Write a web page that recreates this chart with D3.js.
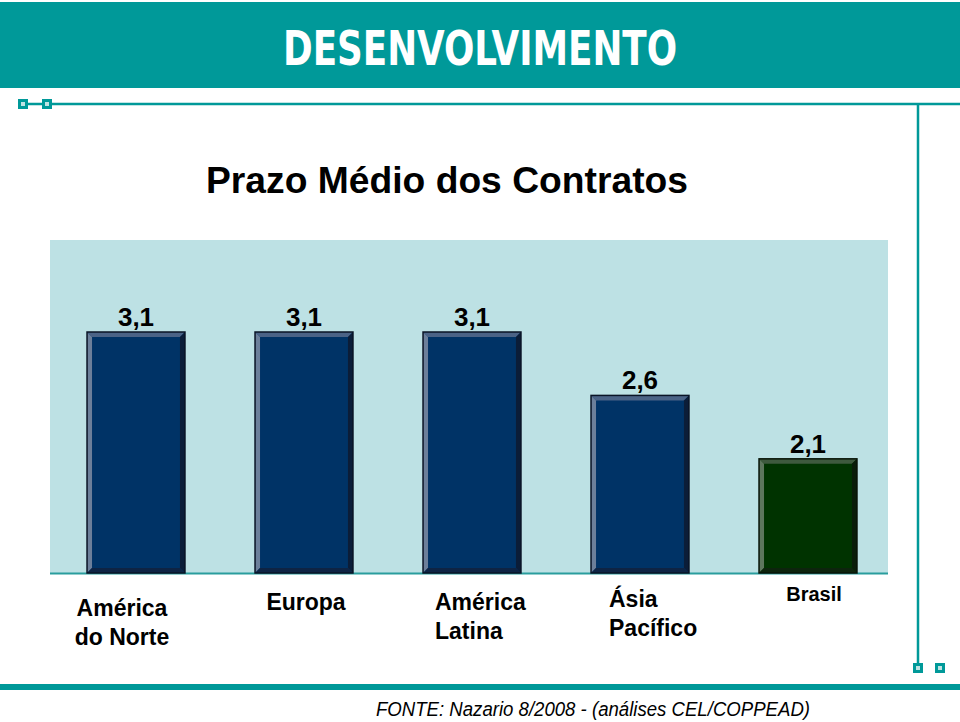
<!DOCTYPE html>
<html>
<head>
<meta charset="utf-8">
<script src="https://cdn.jsdelivr.net/npm/d3@7/dist/d3.min.js"></script>
<style>
  html, body { margin: 0; padding: 0; background: #ffffff; }
  svg { display: block; }
</style>
</head>
<body>
<svg id="chart" width="960" height="722"></svg>
<script>
// ---- data ----
const categories = ["América do Norte", "Europa", "América Latina", "Ásia Pacífico", "Brasil"];
const categoryLines = [["América", "do Norte"], ["Europa"], ["América", "Latina"], ["Ásia", "Pacífico"], ["Brasil"]];
const values = [3.1, 3.1, 3.1, 2.6, 2.1];
const valueLabels = ["3,1", "3,1", "3,1", "2,6", "2,1"];
const highlight = [false, false, false, false, true];

// ---- layout / style ----
const W = 960, H = 722;
const teal = "#009999";
const svg = d3.select("#chart");
const font = "'Liberation Sans', Arial, Helvetica, sans-serif";

// header band
svg.append("rect").attr("x", 0).attr("y", 2).attr("width", W).attr("height", 86).attr("fill", teal);
svg.append("text")
  .attr("x", 480).attr("y", 65)
  .attr("text-anchor", "middle")
  .attr("font-family", "'DejaVu Sans Condensed', 'DejaVu Sans', sans-serif")
  .attr("font-weight", "bold")
  .attr("font-size", 48)
  .attr("textLength", 394).attr("lengthAdjust", "spacingAndGlyphs")
  .attr("fill", "#ffffff")
  .text("DESENVOLVIMENTO");

// decorative lines
svg.append("line").attr("x1", 22).attr("x2", W).attr("y1", 104).attr("y2", 104)
  .attr("stroke", teal).attr("stroke-width", 2.5);
svg.append("line").attr("x1", 918).attr("x2", 918).attr("y1", 104).attr("y2", 664)
  .attr("stroke", teal).attr("stroke-width", 2.5);
svg.append("rect").attr("x", 0).attr("y", 684).attr("width", W).attr("height", 6).attr("fill", teal);
const squares = [[18, 99], [42, 99], [913, 663], [935, 663]];
svg.selectAll("rect.sq").data(squares).enter().append("rect")
  .attr("class", "sq")
  .attr("x", d => d[0] + 1.5).attr("y", d => d[1] + 1.5)
  .attr("width", 7).attr("height", 7)
  .attr("fill", "#bfe3e3").attr("stroke", teal).attr("stroke-width", 3);

// title
svg.append("text")
  .attr("x", 447).attr("y", 193)
  .attr("text-anchor", "middle")
  .attr("font-family", font).attr("font-weight", "bold")
  .attr("font-size", 37)
  .attr("textLength", 482).attr("lengthAdjust", "spacingAndGlyphs")
  .attr("fill", "#000")
  .text("Prazo Médio dos Contratos");

// plot area
const plot = { left: 50, right: 888, top: 240, bottom: 573 };
svg.append("rect")
  .attr("x", plot.left).attr("y", plot.top)
  .attr("width", plot.right - plot.left).attr("height", plot.bottom - plot.top)
  .attr("fill", "#bde1e4");

const x = d3.scaleBand().domain(categories).range([52, 892]).paddingInner(0.417).paddingOuter(0.2085);
const y = d3.scaleLinear().domain([1.2, 3.1]).range([plot.bottom, 332]);

// baseline
svg.append("line").attr("x1", plot.left).attr("x2", plot.right)
  .attr("y1", plot.bottom + 0.5).attr("y2", plot.bottom + 0.5)
  .attr("stroke", "#2a9d9d").attr("stroke-width", 2);

const palettes = {
  blue:  { fill: "#003366", left: "#6c7f9a", top: "#4b6386", right: "#0b1d38", bottom: "#0e2444", edge: "#0a1426" },
  green: { fill: "#003300", left: "#5d765d", top: "#3e5a3e", right: "#0a1d0a", bottom: "#0d240d", edge: "#081408" }
};
const b = 5;
const bars = svg.append("g");
categories.forEach((c, i) => {
  const p = highlight[i] ? palettes.green : palettes.blue;
  const x0 = x(c), x1 = x(c) + x.bandwidth();
  const y0 = y(values[i]), y1 = y(1.2);
  const g = bars.append("g");
  g.append("rect").attr("x", x0).attr("y", y0).attr("width", x1 - x0).attr("height", y1 - y0)
    .attr("fill", p.fill);
  const poly = (pts, col) => g.append("polygon").attr("points", pts.map(q => q.join(",")).join(" ")).attr("fill", col);
  poly([[x0, y0], [x1, y0], [x1 - b, y0 + b], [x0 + b, y0 + b]], p.top);
  poly([[x0, y0], [x0 + b, y0 + b], [x0 + b, y1 - b], [x0, y1]], p.left);
  poly([[x1, y0], [x1, y1], [x1 - b, y1 - b], [x1 - b, y0 + b]], p.right);
  poly([[x0, y1], [x0 + b, y1 - b], [x1 - b, y1 - b], [x1, y1]], p.bottom);
  g.append("rect").attr("x", x0).attr("y", y0).attr("width", x1 - x0).attr("height", y1 - y0)
    .attr("fill", "none").attr("stroke", p.edge).attr("stroke-width", 1.5);
});

// value labels
svg.selectAll("text.val").data(values).enter().append("text")
  .attr("class", "val")
  .attr("x", (d, i) => x(categories[i]) + x.bandwidth() / 2)
  .attr("y", d => y(d) - 6)
  .attr("text-anchor", "middle")
  .attr("font-family", font).attr("font-weight", "bold").attr("font-size", 26)
  .attr("fill", "#000")
  .text((d, i) => valueLabels[i]);

// category labels (per-label layout tweaks)
const labelLayout = [
  { dx: -14, y: 616, anchor: "middle", size: 23 },
  { dx: 2,   y: 610, anchor: "middle", size: 23 },
  { dx: -37, y: 610, anchor: "start",  size: 23 },
  { dx: -31, y: 607, anchor: "start",  size: 23 },
  { dx: 6,   y: 601, anchor: "middle", size: 20 }
];
categories.forEach((c, i) => {
  const L = labelLayout[i];
  const t = svg.append("text")
    .attr("x", x(c) + x.bandwidth() / 2 + L.dx)
    .attr("y", L.y)
    .attr("text-anchor", L.anchor)
    .attr("font-family", font).attr("font-weight", "bold").attr("font-size", L.size)
    .attr("fill", "#000");
  categoryLines[i].forEach((ln, k) => {
    t.append("tspan").attr("x", x(c) + x.bandwidth() / 2 + L.dx).attr("dy", k === 0 ? 0 : 29).text(ln);
  });
});

// source
svg.append("text")
  .attr("x", 593).attr("y", 716)
  .attr("text-anchor", "middle")
  .attr("font-family", font).attr("font-style", "italic").attr("font-size", 20)
  .attr("textLength", 434).attr("lengthAdjust", "spacingAndGlyphs")
  .attr("fill", "#000")
  .text("FONTE: Nazario 8/2008 - (análises CEL/COPPEAD)");
</script>
</body>
</html>
